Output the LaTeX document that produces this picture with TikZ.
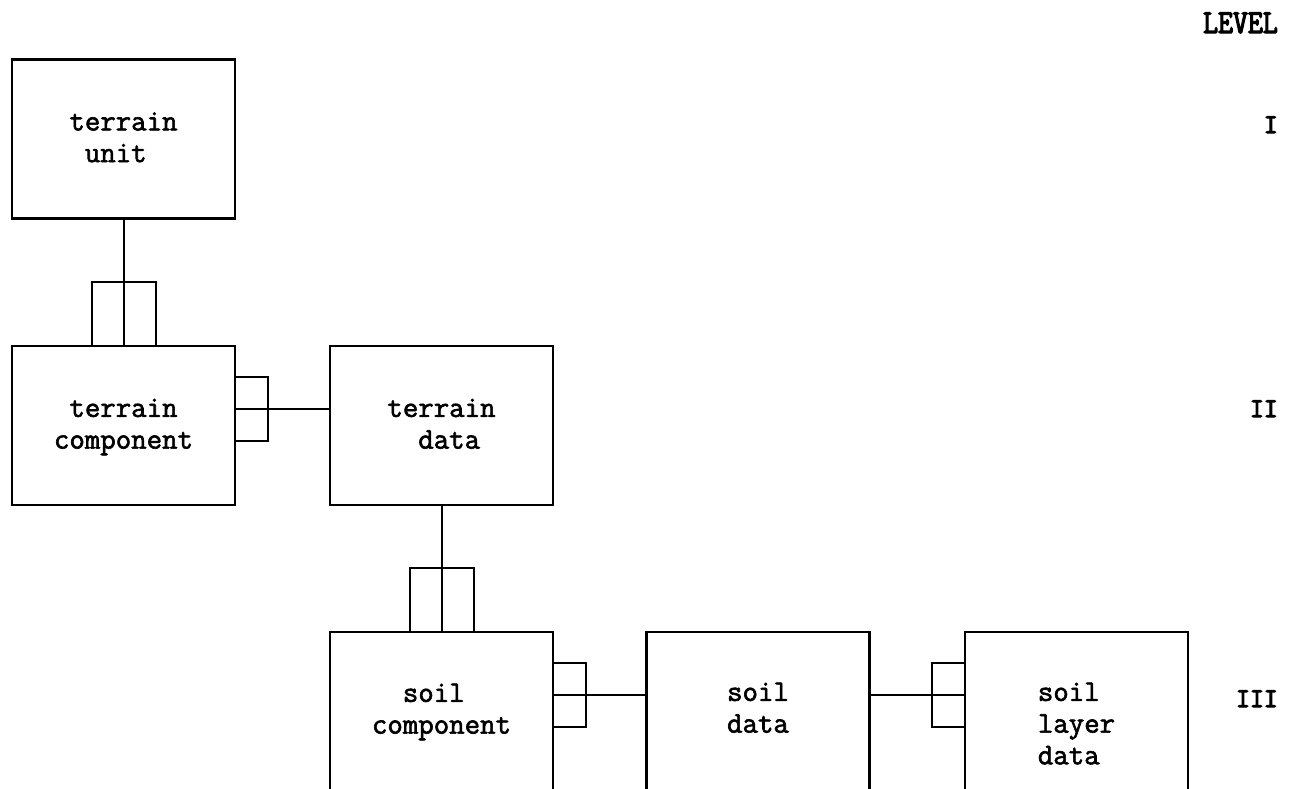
\documentclass[tikz,border=0pt]{standalone}
\usepackage{fontspec}
\usepackage{graphicx}
\newfontfamily\boxfont[FakeBold=2]{Latin Modern Mono}
\newfontfamily\levelfont[FakeBold=4]{Latin Modern Mono}
\tikzset{
  entity/.style={draw, line width=2.2pt, rectangle, minimum width=223pt,
    minimum height=159pt, inner sep=0pt},
  link/.style={line width=2pt},
  boxtext/.style={inner sep=0pt, anchor=base,
    font=\boxfont\fontsize{30}{31.7}\selectfont},
  leveltext/.style={inner sep=0pt, anchor=base east,
    font=\levelfont\fontsize{27}{30}\selectfont},
}
% one character of indent in the monospaced labels
\newcommand{\ind}[1]{\hphantom{#1}}
\begin{document}
\begin{tikzpicture}[x=1pt,y=-1pt]
  \useasboundingbox (0,0) rectangle (1293,788);
  \clip (0,0) rectangle (1293,788);

  % entity boxes
  \node[entity] (tu) at (123.5,139)   {};
  \node[entity] (tc) at (123.5,425.5) {};
  \node[entity] (td) at (441.5,425.5) {};
  \node[entity] (sc) at (441.5,711.5) {};
  \node[entity] (sd) at (758,711.5)   {};
  \node[entity] (sl) at (1076.5,711.5) {};

  % box labels, first baseline at a fixed depth below the top edge
  \node[boxtext] (tu-t) at ([yshift=-72pt]tu.north)
    {\begin{tabular}[t]{@{}l@{}}terrain\\\ind{t}unit\end{tabular}};
  \node[boxtext] (tc-t) at ([yshift=-72pt]tc.north)
    {\begin{tabular}[t]{@{}l@{}}\ind{c}terrain\\component\end{tabular}};
  \node[boxtext] (td-t) at ([yshift=-72pt]td.north)
    {\begin{tabular}[t]{@{}l@{}}terrain\\\ind{te}data\end{tabular}};
  \node[boxtext] (sc-t) at ([yshift=-71pt]sc.north)
    {\begin{tabular}[t]{@{}l@{}}\ind{co}soil\\component\end{tabular}};
  \node[boxtext] (sd-t) at ([yshift=-70pt]sd.north)
    {\begin{tabular}[t]{@{}l@{}}soil\\data\end{tabular}};
  \node[boxtext] (sl-t) at ([yshift=-70pt]sl.north)
    {\begin{tabular}[t]{@{}l@{}}soil\\layer\\data\end{tabular}};

  % vertical relationships with their many-side marks
  \draw[link] (tu.south) -- (tc.north);
  \draw[link] ([xshift=-32pt]tc.north) -- ++(0,-63) -- ++(64,0) -- ++(0,63);
  \draw[link] (td.south) -- (sc.north);
  \draw[link] ([xshift=-32pt]sc.north) -- ++(0,-63) -- ++(64,0) -- ++(0,63);

  % horizontal relationships
  \draw[link] ([yshift=-64pt]tc.north east) -- ([yshift=-64pt]td.north west);
  \draw[link] ([yshift=-32pt]tc.north east) -- ++(32,0) -- ++(0,64) -- ++(-32,0);
  \draw[link] ([yshift=-64pt]sc.north east) -- ([yshift=-64pt]sd.north west);
  \draw[link] ([yshift=-32pt]sc.north east) -- ++(32,0) -- ++(0,64) -- ++(-32,0);
  \draw[link] ([yshift=-64pt]sd.north east) -- ([yshift=-64pt]sl.north west);
  \draw[link] ([yshift=-32pt]sl.north west) -- ++(-32,0) -- ++(0,64) -- ++(32,0);

  % level column
  \node[inner sep=0pt, anchor=base east] (lvl) at (1278,33)
    {\levelfont\fontsize{29}{30}\selectfont\scalebox{1}[1.15]{LEVEL}};
  \node[leveltext] (l1) at (1278,133) {I};
  \node[leveltext] (l2) at (1278,417) {II};
  \node[leveltext] (l3) at (1278,707) {III};
\end{tikzpicture}
\end{document}
